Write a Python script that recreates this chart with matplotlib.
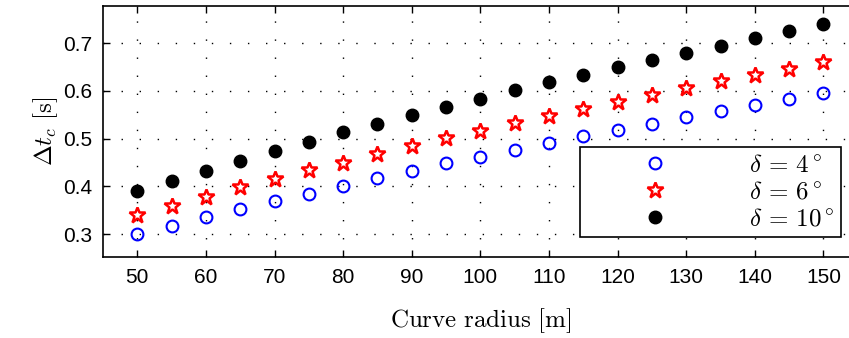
import numpy as np
import matplotlib.pyplot as plt

plt.rcParams['font.family'] = ['Liberation Sans', 'DejaVu Sans']
plt.rcParams['mathtext.fontset'] = 'cm'

# Data
radius = np.arange(50, 151, 5)
dt_4 = [0.300, 0.317, 0.335, 0.352, 0.369, 0.385, 0.401, 0.417, 0.432, 0.448, 0.462,
        0.476, 0.490, 0.505, 0.519, 0.531, 0.545, 0.557, 0.570, 0.583, 0.595]
dt_6 = [0.340, 0.359, 0.378, 0.398, 0.415, 0.434, 0.450, 0.468, 0.485, 0.502, 0.517,
        0.533, 0.548, 0.563, 0.577, 0.592, 0.606, 0.620, 0.634, 0.647, 0.661]
dt_10 = [0.390, 0.411, 0.433, 0.454, 0.474, 0.493, 0.513, 0.531, 0.549, 0.567, 0.584,
         0.601, 0.618, 0.634, 0.650, 0.665, 0.680, 0.695, 0.711, 0.725, 0.740]

fig = plt.figure(figsize=(8.49, 3.38), dpi=100)
ax = fig.add_axes([0.1213, 0.2396, 0.889, 0.7426])

ax.plot(radius, dt_4, 'o', ls='none', ms=8.5, mfc='none', mec='#0000ff', mew=1.5,
        label=r'$\delta \,=\, 4^\circ$')
ax.plot(radius, dt_6, '*', ls='none', ms=12, mfc='white', mec='#ff0000', mew=1.8,
        label=r'$\delta \,=\, 6^\circ$')
ax.plot(radius, dt_10, 'o', ls='none', ms=9, mfc='black', mec='black',
        label=r'$\delta \,=\, 10^\circ$')

ax.set_xlim(45, 155)
ax.set_ylim(0.252, 0.778)
ax.set_xticks(np.arange(50, 151, 10))
ax.set_yticks([0.3, 0.4, 0.5, 0.6, 0.7])
ax.set_yticklabels(['0.3', '0.4', '0.5', '0.6', '0.7'])
ax.tick_params(direction='in', length=5, width=1, labelsize=15, top=True, right=True, pad=8)
ax.grid(True, color='black', linestyle=(0, (1, 12)), linewidth=1.0)
for s in ax.spines.values():
    s.set_linewidth(1.2)

ax.set_xlabel(r'$\mathrm{Curve\ radius\ [m]}$', fontsize=18, labelpad=14)
ax.set_ylabel(r'$\Delta t_c\ \mathrm{[s]}$', fontsize=18, labelpad=2)

leg = ax.legend(loc='upper left', bbox_to_anchor=(580 / 849, 1 - 146.7 / 338),
                bbox_transform=fig.transFigure, fontsize=18,
                frameon=True, fancybox=False, edgecolor='black', framealpha=1,
                handlelength=5.5, handletextpad=1.0, labelspacing=0.12, borderpad=0.25,
                borderaxespad=0)
leg.get_frame().set_linewidth(1.2)

fig.savefig('out.png', dpi=100)
